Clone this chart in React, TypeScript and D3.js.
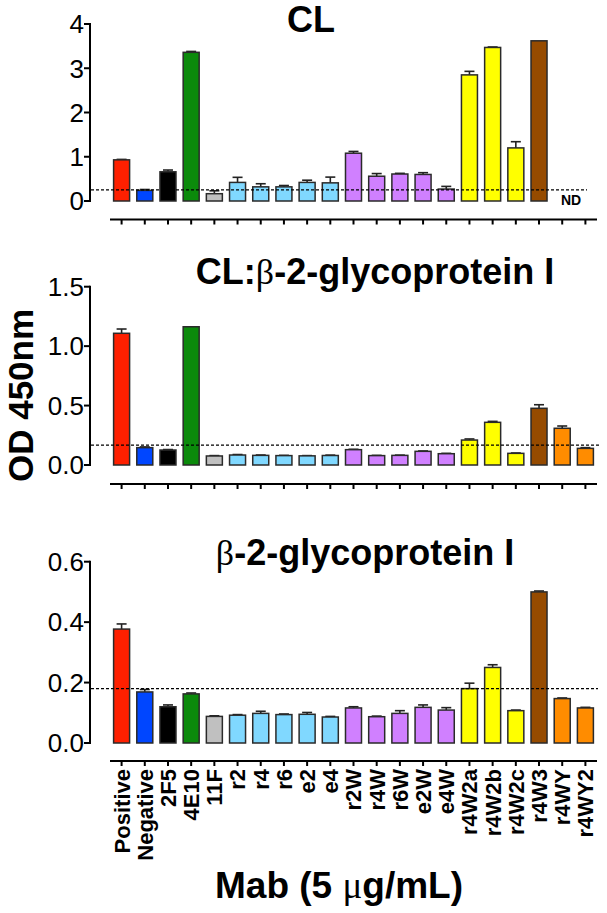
import React from "react";
import * as d3 from "d3";

const categories = ["Positive","Negative","2F5","4E10","11F","r2","r4","r6","e2","e4","r2W","r4W","r6W","e2W","e4W","r4W2a","r4W2b","r4W2c","r4W3","r4WY","r4WY2"];
const barColors = ["#FF2000","#0046FF","#000000","#0B8A0B","#C0C0C0","#80D8FF","#80D8FF","#80D8FF","#80D8FF","#80D8FF","#D080FF","#D080FF","#D080FF","#D080FF","#D080FF","#FFFF00","#FFFF00","#FFFF00","#964B00","#FF8C00","#FF8C00"];

const clMean = [0.93,0.24,0.66,3.36,0.165,0.42,0.32,0.32,0.42,0.41,1.08,0.56,0.61,0.60,0.27,2.85,3.47,1.20,3.62,null,null];
const clErr = [0.01,0.02,0.04,0.02,0.065,0.115,0.07,0.03,0.05,0.13,0.04,0.06,0.015,0.04,0.06,0.08,0.01,0.14,0,null,null];

const clB2Mean = [1.108,0.146,0.126,1.163,0.076,0.084,0.081,0.079,0.077,0.08,0.129,0.079,0.081,0.115,0.095,0.21,0.359,0.098,0.477,0.309,0.14];
const clB2Err = [0.036,0.006,0.004,0,0.003,0.004,0.003,0.002,0.002,0.003,0.003,0.002,0.002,0.003,0.003,0.009,0.008,0.003,0.03,0.019,0.006];

const b2Mean = [0.377,0.169,0.12,0.1625,0.088,0.092,0.098,0.094,0.095,0.086,0.116,0.087,0.098,0.118,0.109,0.18,0.25,0.107,0.50,0.147,0.116];
const b2Err = [0.017,0.008,0.006,0.003,0.002,0.002,0.007,0.002,0.006,0.002,0.004,0.002,0.009,0.008,0.008,0.018,0.009,0.002,0.003,0.002,0.002];

const clTicks = [0,1,2,3,4];
const clB2Ticks = [0,0.5,1.0,1.5];
const b2Ticks = [0,0.2,0.4,0.6];
const cutoffs = [0.25, 0.168, 0.18];

const W = 607, H = 913;
const FONT = "'Liberation Sans', Arial, Helvetica, sans-serif";
const SERIF = "'Liberation Serif', 'DejaVu Serif', serif";

const x = d3.scaleBand<string>().domain(categories).range([110, 597]).paddingInner(0.31).paddingOuter(0.155);

type PanelProps = {
  title: React.ReactNode;
  titleX: number; titleY: number;
  means: (number|null)[]; errs: (number|null)[];
  ticks: number[]; fmt: (v:number)=>string;
  y0: number; y1: number; axisY: number; cutoff: number; dashEnd: number;
  nd?: boolean;
};

function Panel(p: PanelProps) {
  const dom = [p.ticks[0], p.ticks[p.ticks.length-1]];
  const y = d3.scaleLinear().domain(dom).range([p.y0, p.y1]);
  const bw = x.bandwidth();
  return (
    <g>
      <text x={p.titleX} y={p.titleY} textAnchor="middle" fontFamily={FONT} fontWeight="bold" fontSize={36}>{p.title}</text>
      {/* y axis */}
      <line x1={90} x2={90} y1={y(dom[0])+1} y2={y(dom[1])-1} stroke="#000" strokeWidth={2} />
      {p.ticks.map((t,i)=>(
        <g key={i}>
          <line x1={84} x2={90} y1={y(t)} y2={y(t)} stroke="#000" strokeWidth={2} />
          <text x={84} y={y(t)} dy="0.36em" textAnchor="end" fontFamily={FONT} fontSize={26}>{p.fmt(t)}</text>
        </g>
      ))}
      {/* bars */}
      {categories.map((c,i)=>{
        const m = p.means[i];
        if (m == null) return null;
        const e = p.errs[i] || 0;
        const cx = (x(c) as number) + bw/2;
        return (
          <g key={c}>
            {e > 0 && (
              <g stroke="#222" strokeWidth={1.6}>
                <line x1={cx} x2={cx} y1={y(m)} y2={y(m+e)} />
                <line x1={cx-5} x2={cx+5} y1={y(m+e)} y2={y(m+e)} />
              </g>
            )}
            <rect x={x(c)} y={y(m)} width={bw} height={y(0)-y(m)} fill={barColors[i]} stroke="#2a2a2a" strokeWidth={1.5} />
          </g>
        );
      })}
      {/* cutoff */}
      <line x1={91} x2={p.dashEnd} y1={y(p.cutoff)} y2={y(p.cutoff)} stroke="#000" strokeWidth={1.2} strokeDasharray="3,2" />
      {p.nd && (
        <text x={571} y={205} textAnchor="middle" fontFamily={FONT} fontWeight="bold" fontSize={14}>ND</text>
      )}
      {/* x axis */}
      <line x1={110} x2={597} y1={p.axisY} y2={p.axisY} stroke="#000" strokeWidth={2} />
      {categories.map((c)=>{
        const cx = (x(c) as number) + bw/2;
        return <line key={c} x1={cx} x2={cx} y1={p.axisY} y2={p.axisY+5} stroke="#000" strokeWidth={2} />;
      })}
    </g>
  );
}

export default function App() {
  const f1 = d3.format("d");
  const f2 = d3.format(".1f");
  const bw = x.bandwidth();
  return (
    <svg width={W} height={H} style={{position:"absolute", left:0, top:0, background:"#fff"}}>
      <rect width={W} height={H} fill="#fff" />
      <Panel title="CL" titleX={311} titleY={32} means={clMean} errs={clErr} ticks={clTicks} fmt={f1}
        y0={201} y1={24} axisY={219.5} cutoff={cutoffs[0]} dashEnd={587} nd />
      <Panel title={<>CL:<tspan fontFamily={SERIF} fontWeight="normal">β</tspan>-2-glycoprotein I</>} titleX={375} titleY={284}
        means={clB2Mean} errs={clB2Err} ticks={clB2Ticks} fmt={f2}
        y0={465} y1={286.7} axisY={484} cutoff={cutoffs[1]} dashEnd={599} />
      <Panel title={<><tspan fontFamily={SERIF} fontWeight="normal">β</tspan>-2-glycoprotein I</>} titleX={365} titleY={565}
        means={b2Mean} errs={b2Err} ticks={b2Ticks} fmt={f2}
        y0={743} y1={561.7} axisY={761} cutoff={cutoffs[2]} dashEnd={598} />
      {/* x tick labels */}
      {categories.map((c)=>{
        const cx = (x(c) as number) + bw/2;
        return (
          <text key={c} transform={`translate(${cx},769) rotate(-90)`} dy="0.36em" textAnchor="end"
            fontFamily={FONT} fontWeight="bold" fontSize={22}>{c}</text>
        );
      })}
      {/* axis titles */}
      <text x={339} y={898} textAnchor="middle" fontFamily={FONT} fontWeight="bold" fontSize={37}>
        Mab (5 <tspan fontFamily={SERIF} fontWeight="normal">μ</tspan>g/mL)
      </text>
      <text transform="translate(33,395.5) rotate(-90)" textAnchor="middle" fontFamily={FONT} fontWeight="bold" fontSize={35}>OD 450nm</text>
    </svg>
  );
}
